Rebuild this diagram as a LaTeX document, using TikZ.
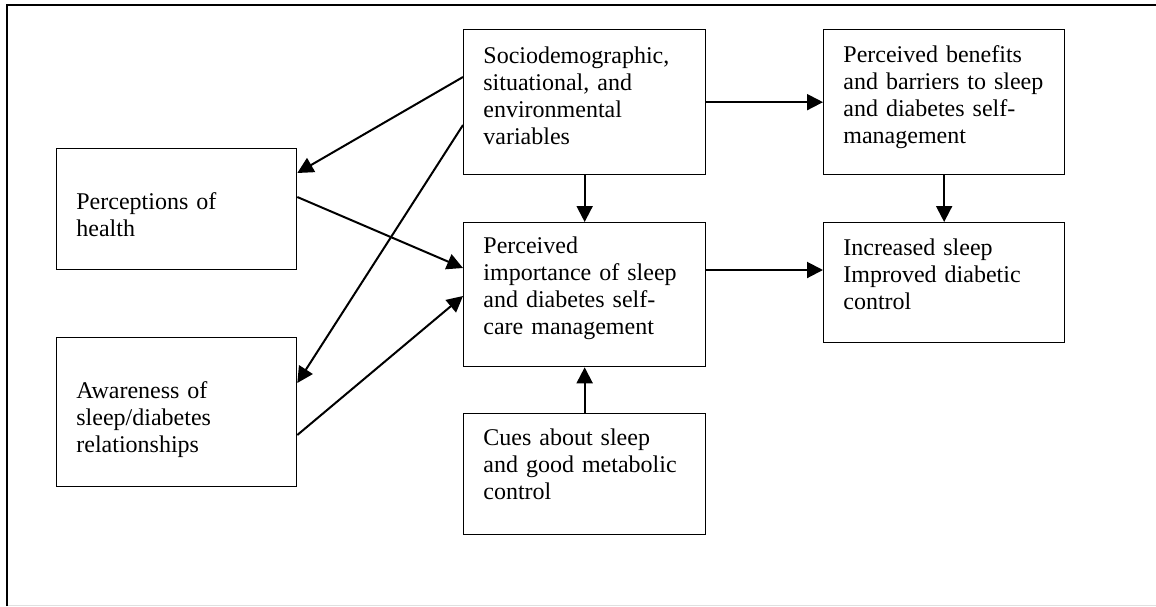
\documentclass[tikz,border=0pt]{standalone}
\usepackage{fontspec}
\setmainfont{Liberation Serif}
\usetikzlibrary{arrows.meta}

\begin{document}
\begin{tikzpicture}[
  x=0.5pt, y=-0.5pt,
  box/.style={draw, line width=0.65pt, anchor=north west, inner sep=0pt},
  boxtext/.style={anchor=base west, align=left, inner sep=0pt, text width=112pt, font=\fontsize{12pt}{13.5pt}\selectfont},
  arrow/.style={-{Triangle[length=8pt, width=8pt]}, line width=1pt}
]
\useasboundingbox (0,0) rectangle (1156,606);
% outer frame
\draw[line width=1pt] (7,606) -- (7,5) -- (1156,5);
\draw[black!12, line width=0.5pt] (8,605) -- (1156,605);

% boxes
\node[box, minimum width=121pt, minimum height=72.5pt] (socio) at (463,29) {};
\node[boxtext] (socio-t) at ([shift={(20,34)}]socio.north west) {Sociodemographic,\\situational, and\\environmental\\variables};

\node[box, minimum width=120.5pt, minimum height=72.5pt] (benefit) at (823,29) {};
\node[boxtext] (benefit-t) at ([shift={(20,33)}]benefit.north west) {Perceived benefits\\and barriers to sleep\\and diabetes self-\\management};

\node[box, minimum width=120pt, minimum height=60.5pt] (health) at (56,148) {};
\node[boxtext] (health-t) at ([shift={(20,61)}]health.north west) {Perceptions of\\health};

\node[box, minimum width=120pt, minimum height=74.5pt] (aware) at (56,337) {};
\node[boxtext] (aware-t) at ([shift={(20,61)}]aware.north west) {Awareness of\\sleep/diabetes\\relationships};

\node[box, minimum width=121pt, minimum height=72pt] (import) at (463,222) {};
\node[boxtext] (import-t) at ([shift={(20,31)}]import.north west) {Perceived\\importance of sleep\\and diabetes self-\\care management};

\node[box, minimum width=121pt, minimum height=60.5pt] (cues) at (463,413) {};
\node[boxtext] (cues-t) at ([shift={(20,32)}]cues.north west) {Cues about sleep\\and good metabolic\\control};

\node[box, minimum width=120.5pt, minimum height=60pt] (outcome) at (823,222) {};
\node[boxtext] (outcome-t) at ([shift={(20,33)}]outcome.north west) {Increased sleep\\Improved diabetic\\control};

% arrows
\draw[arrow] ([shift={(0,48)}]socio.north west) -- ([shift={(0,25)}]health.north east);
\draw[arrow] ([shift={(0,96)}]socio.north west) -- ([shift={(0,46)}]aware.north east);
\draw[arrow] ([shift={(0,49)}]health.north east) -- ([shift={(0,46)}]import.north west);
\draw[arrow] ([shift={(0,98)}]aware.north east) -- ([shift={(0,74)}]import.north west);
\draw[arrow] (socio.south) -- (import.north);
\draw[arrow] (cues.north) -- (import.south);
\draw[arrow] (socio.east) -- (benefit.west);
\draw[arrow] ([shift={(0,48)}]import.north east) -- ([shift={(0,48)}]outcome.north west);
\draw[arrow] (benefit.south) -- (outcome.north);
\end{tikzpicture}
\end{document}
